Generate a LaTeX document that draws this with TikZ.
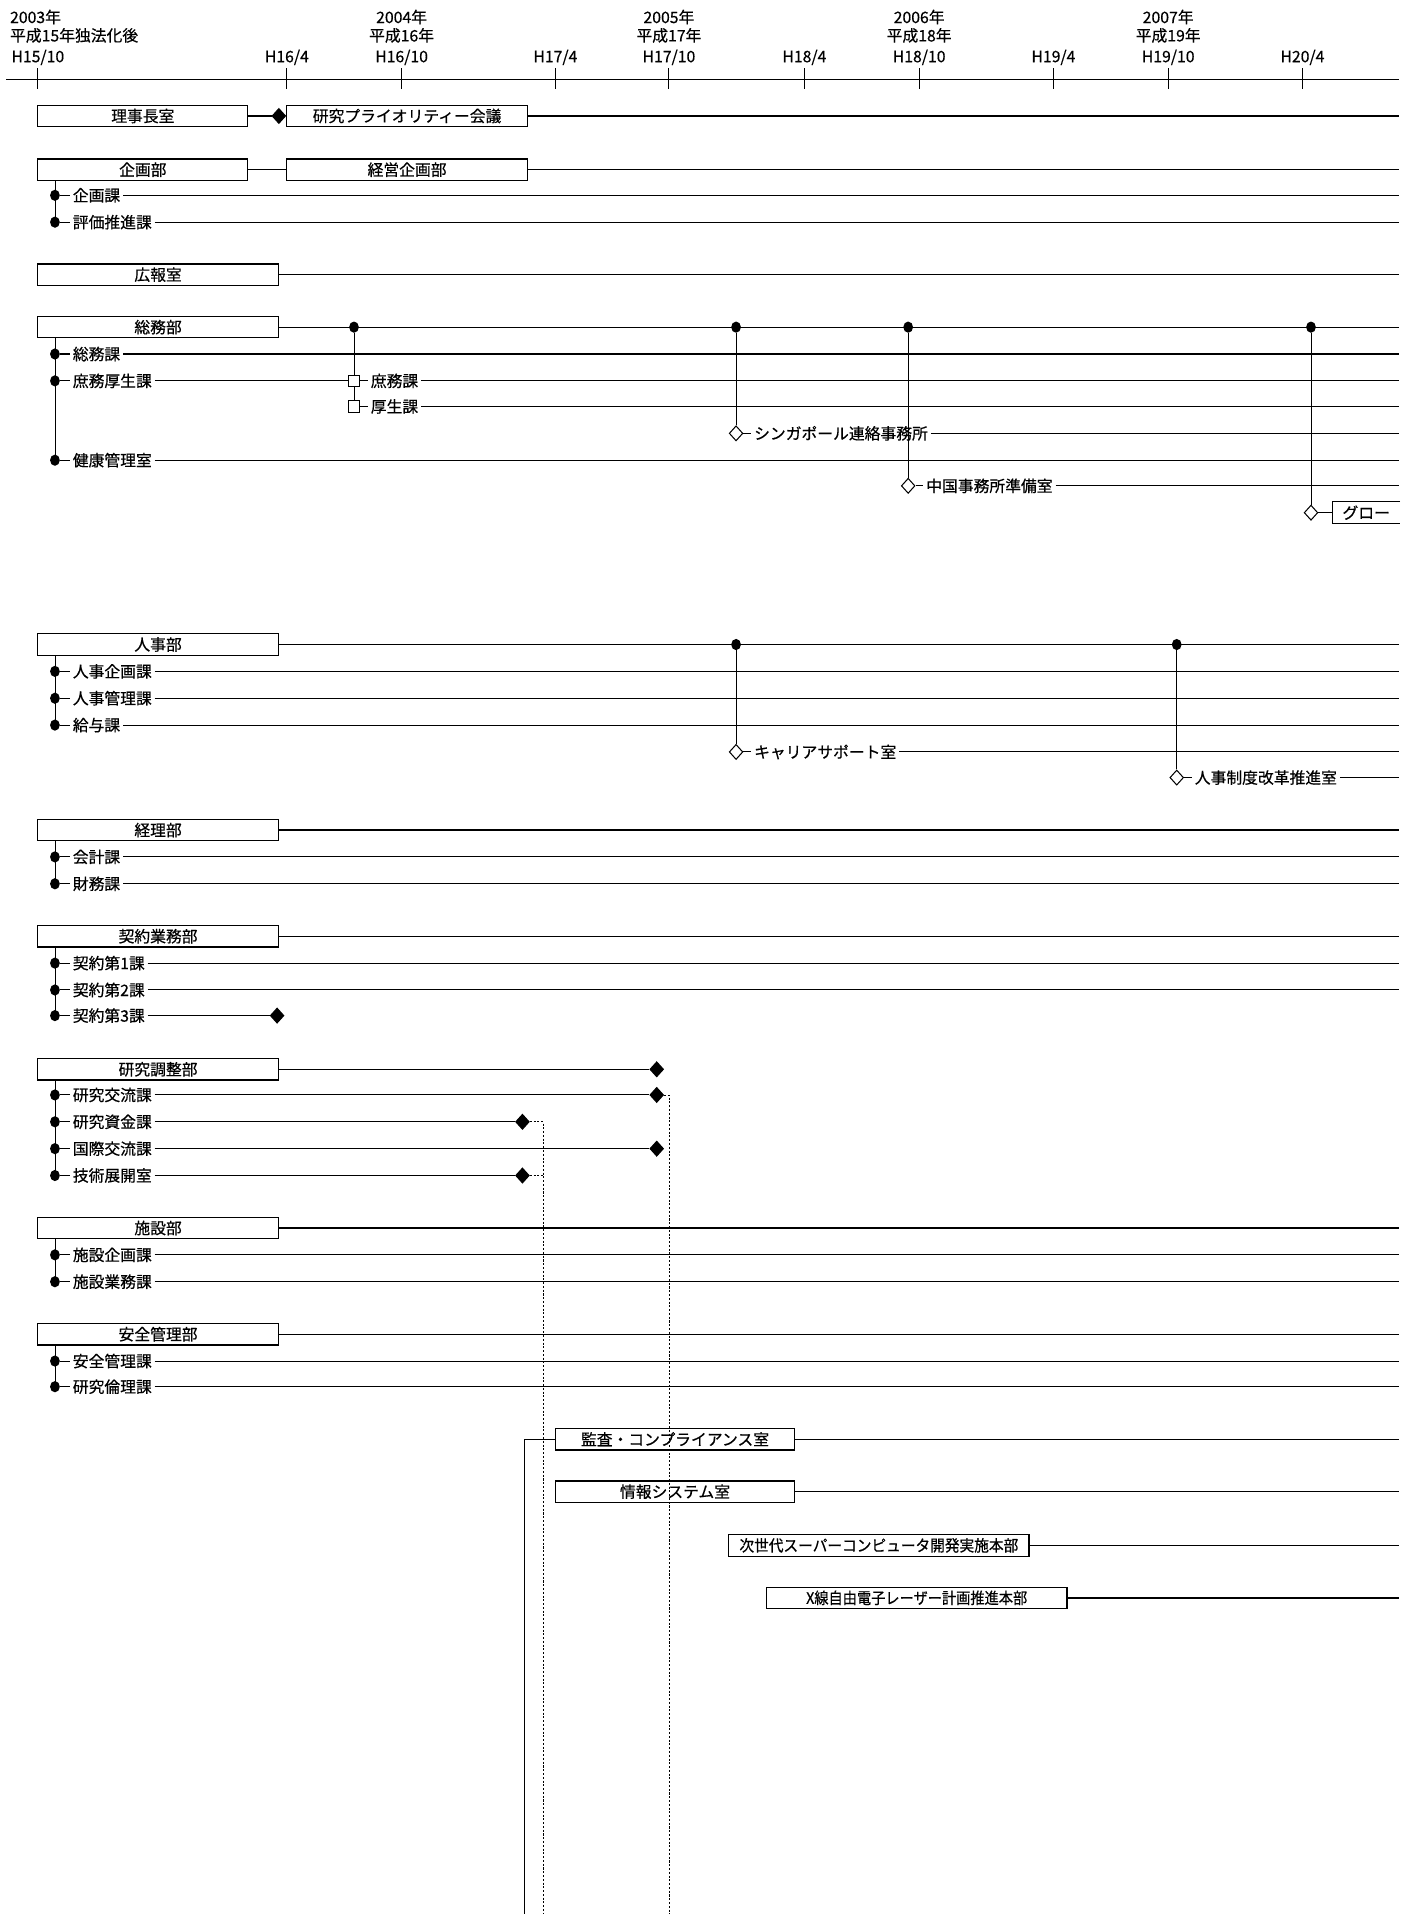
\documentclass[tikz,border=0pt]{standalone}
\usepackage{fontspec}
\usepackage{graphicx}
\setmainfont{Noto Sans CJK JP}[FakeBold=0.5]
\usetikzlibrary{positioning,shapes.geometric,backgrounds}
\newcommand{\orgfont}{\fontsize{9.2pt}{10.7pt}\selectfont}
\tikzset{jdot/.style={ellipse, fill=black, minimum width=0.2cm, minimum height=0.23cm, inner sep=0pt}}
\tikzset{osq/.style={rectangle, draw=black, fill=white, line width=0.6pt, minimum size=0.23cm, inner sep=0pt}}
\tikzset{odia/.style={diamond, draw=black, fill=white, line width=0.6pt, minimum width=0.28cm, minimum height=0.31cm, inner sep=0pt}}
\tikzset{fdia/.style={odia, fill=black}}

\begin{document}
\begin{tikzpicture}[
  x=0.025cm, y=-0.025cm,
  bubox/.style={rectangle, draw=black, fill=white, line width=0.7pt,
                minimum height=0.44cm, inner sep=0pt, font=\orgfont},
  kalbl/.style={font=\orgfont, inner sep=1.5pt},
  tklbl/.style={font=\orgfont, inner sep=0pt},
  yrlbl/.style={font=\orgfont, inner sep=0pt, align=center},
  mainln/.style={line width=0.75pt},
  subln/.style={line width=0.6pt},
  vln/.style={line width=0.5pt},
  dotln/.style={line width=0.5pt, dash pattern=on 1.2pt off 1pt},
  axtick/.style={line width=0.6pt},
]
 \useasboundingbox (0,0) rectangle (1153,1568);
 \coordinate (R) at (1146,0);

 % Time axis
 \draw[subln] (5,65) -- (1146,65);
 \node[yrlbl, align=left, anchor=west] (Y2003) at (8,21.5) {2003年\\平成15年独法化後};
 \node[yrlbl] (Y2004) at (329,21.5) {2004年\\平成16年};
 \node[yrlbl] (Y2005) at (548,21.5) {2005年\\平成17年};
 \node[yrlbl] (Y2006) at (753,21.5) {2006年\\平成18年};
 \node[yrlbl] (Y2007) at (957,21.5) {2007年\\平成19年};
 \node[tklbl] (H1510) at (31,47) {H15/10};
 \node[tklbl] (H1604) at (235,47) {H16/4};
 \node[tklbl] (H1610) at (329,47) {H16/10};
 \node[tklbl] (H1704) at (455,47) {H17/4};
 \node[tklbl] (H1710) at (548,47) {H17/10};
 \node[tklbl] (H1804) at (659,47) {H18/4};
 \node[tklbl] (H1810) at (753,47) {H18/10};
 \node[tklbl] (H1904) at (863,47) {H19/4};
 \node[tklbl] (H1910) at (957,47) {H19/10};
 \node[tklbl] (H2004) at (1067,47) {H20/4};
 \draw[axtick] (31,56) -- (31,73);
 \draw[axtick] (235,56) -- (235,73);
 \draw[axtick] (329,56) -- (329,73);
 \draw[axtick] (455,56) -- (455,73);
 \draw[axtick] (548,56) -- (548,73);
 \draw[axtick] (659,56) -- (659,73);
 \draw[axtick] (753,56) -- (753,73);
 \draw[axtick] (863,56) -- (863,73);
 \draw[axtick] (957,56) -- (957,73);
 \draw[axtick] (1067,56) -- (1067,73);

 % Riji row
 \node[bubox, minimum width=4.3cm] (Riji) at (117,95) {理事長室};
 \node[bubox, minimum width=4.925cm] (Prio) at (333.5,95) {研究プライオリティー会議};
 \node[fdia, left=0pt of Prio] (RijiEnd) {};
 \begin{scope}[on background layer]
  \draw[mainln] (Riji) -- (RijiEnd);
  \draw[mainln] (Prio.east) -- (Prio.east -| R);
 \end{scope}

 % Kikaku rows
 \node[bubox, minimum width=4.3cm] (Kikaku) at (117,139) {企画部};
 \node[bubox, minimum width=4.925cm] (Keiei) at (333.5,139) {経営企画部};
 \node[jdot] (KikakuD1) at (45,160) {};
 \node[kalbl, right=0.2cm of KikakuD1] (KikakuKa) {企画課};
 \node[jdot] (KikakuD2) at (45,182) {};
 \node[kalbl, right=0.2cm of KikakuD2] (HyokaKa) {評価推進課};
 \begin{scope}[on background layer]
  \draw[mainln] (Kikaku) -- (Keiei);
  \draw[mainln] (Keiei.east) -- (Keiei.east -| R);
  \draw[vln] (Kikaku.south -| KikakuD1) -- (KikakuD2.center);
  \draw[subln] (KikakuD1) -- (KikakuKa) -- (KikakuKa.east -| R);
  \draw[subln] (KikakuD2) -- (HyokaKa) -- (HyokaKa.east -| R);
 \end{scope}

 % Koho row
 \node[bubox, minimum width=4.925cm] (Koho) at (129.5,225) {広報室};
 \begin{scope}[on background layer]
  \draw[mainln] (Koho.east) -- (Koho.east -| R);
 \end{scope}

 % Somu rows
 \node[bubox, minimum width=4.925cm] (Somu) at (129.5,268) {総務部};
 \node[jdot] (SomuJ1) at (290,268) {};
 \node[jdot] (SomuJ2) at (603,268) {};
 \node[jdot] (SomuJ3) at (744,268) {};
 \node[jdot] (SomuJ4) at (1074,268) {};
 \node[jdot] (SomuD1) at (45,290) {};
 \node[kalbl, right=0.2cm of SomuD1] (SomuKa) {総務課};
 \node[jdot] (SomuD2) at (45,312) {};
 \node[kalbl, right=0.2cm of SomuD2] (ShomuKosei) {庶務厚生課};
 \node[osq] (SomuS1) at (290,312) {};
 \node[kalbl, right=0.16cm of SomuS1] (ShomuKa) {庶務課};
 \node[osq] (SomuS2) at (290,333) {};
 \node[kalbl, right=0.16cm of SomuS2] (KoseiKa) {厚生課};
 \node[odia] (SomuO1) at (603,355) {};
 \node[kalbl, right=0.16cm of SomuO1] (Singapore) {シンガポール連絡事務所};
 \node[jdot] (SomuD3) at (45,377) {};
 \node[kalbl, right=0.2cm of SomuD3] (Kenko) {健康管理室};
 \node[odia] (SomuO2) at (744,398) {};
 \node[kalbl, right=0.16cm of SomuO2] (China) {中国事務所準備室};
 \node[odia] (SomuO3) at (1074,420) {};
 \node[font=\orgfont, inner sep=0pt, minimum height=0.44cm, minimum width=1.375cm,
       right=0.285cm of SomuO3] (Global) {グロー};
 \draw[line width=0.7pt] (Global.north east) -- (Global.north west)
   -- (Global.south west) -- (Global.south east);
 \begin{scope}[on background layer]
  \draw[mainln] (Somu.east) -- (Somu.east -| R);
  \draw[vln] (Somu.south -| SomuD1) -- (SomuD3.center);
  \draw[subln] (SomuD1) -- (SomuKa) -- (SomuKa.east -| R);
  \draw[subln] (SomuD2) -- (ShomuKosei) -- (SomuS1);
  \draw[subln] (SomuS1) -- (ShomuKa) -- (ShomuKa.east -| R);
  \draw[subln] (SomuS2) -- (KoseiKa) -- (KoseiKa.east -| R);
  \draw[vln] (SomuJ1) -- (SomuS2);
  \draw[vln] (SomuJ2) -- (SomuO1);
  \draw[subln] (SomuO1) -- (Singapore) -- (Singapore.east -| R);
  \draw[subln] (SomuD3) -- (Kenko) -- (Kenko.east -| R);
  \draw[vln] (SomuJ3) -- (SomuO2);
  \draw[subln] (SomuO2) -- (China) -- (China.east -| R);
  \draw[vln] (SomuJ4) -- (SomuO3);
  \draw[subln] (SomuO3) -- (Global);
 \end{scope}

 % Jinji rows
 \node[bubox, minimum width=4.925cm] (Jinji) at (129.5,528) {人事部};
 \node[jdot] (JinjiJ1) at (603,528) {};
 \node[jdot] (JinjiJ2) at (964,528) {};
 \node[jdot] (JinjiD1) at (45,550) {};
 \node[kalbl, right=0.2cm of JinjiD1] (JinjiKikaku) {人事企画課};
 \node[jdot] (JinjiD2) at (45,572) {};
 \node[kalbl, right=0.2cm of JinjiD2] (JinjiKanri) {人事管理課};
 \node[jdot] (JinjiD3) at (45,594) {};
 \node[kalbl, right=0.2cm of JinjiD3] (KyuyoKa) {給与課};
 \node[odia] (JinjiO1) at (603,616) {};
 \node[kalbl, right=0.16cm of JinjiO1] (Career) {キャリアサポート室};
 \node[odia] (JinjiO2) at (964,637) {};
 \node[kalbl, right=0.16cm of JinjiO2] (Seido) {人事制度改革推進室};
 \begin{scope}[on background layer]
  \draw[mainln] (Jinji.east) -- (Jinji.east -| R);
  \draw[vln] (Jinji.south -| JinjiD1) -- (JinjiD3.center);
  \draw[subln] (JinjiD1) -- (JinjiKikaku) -- (JinjiKikaku.east -| R);
  \draw[subln] (JinjiD2) -- (JinjiKanri) -- (JinjiKanri.east -| R);
  \draw[subln] (JinjiD3) -- (KyuyoKa) -- (KyuyoKa.east -| R);
  \draw[vln] (JinjiJ1) -- (JinjiO1);
  \draw[subln] (JinjiO1) -- (Career) -- (Career.east -| R);
  \draw[vln] (JinjiJ2) -- (JinjiO2);
  \draw[subln] (JinjiO2) -- (Seido) -- (Seido.east -| R);
 \end{scope}

 % Keiri rows
 \node[bubox, minimum width=4.925cm] (Keiri) at (129.5,680) {経理部};
 \node[jdot] (KeiriD1) at (45,702) {};
 \node[kalbl, right=0.2cm of KeiriD1] (KaikeiKa) {会計課};
 \node[jdot] (KeiriD2) at (45,724) {};
 \node[kalbl, right=0.2cm of KeiriD2] (ZaimuKa) {財務課};
 \begin{scope}[on background layer]
  \draw[mainln] (Keiri.east) -- (Keiri.east -| R);
  \draw[vln] (Keiri.south -| KeiriD1) -- (KeiriD2.center);
  \draw[subln] (KeiriD1) -- (KaikeiKa) -- (KaikeiKa.east -| R);
  \draw[subln] (KeiriD2) -- (ZaimuKa) -- (ZaimuKa.east -| R);
 \end{scope}

 % Keiyaku rows
 \node[bubox, minimum width=4.925cm] (Keiyaku) at (129.5,767) {契約業務部};
 \node[jdot] (KeiyakuD1) at (45,789) {};
 \node[kalbl, right=0.2cm of KeiyakuD1] (Keiyaku1) {契約第1課};
 \node[jdot] (KeiyakuD2) at (45,811) {};
 \node[kalbl, right=0.2cm of KeiyakuD2] (Keiyaku2) {契約第2課};
 \node[jdot] (KeiyakuD3) at (45,832) {};
 \node[kalbl, right=0.2cm of KeiyakuD3] (Keiyaku3) {契約第3課};
 \node[fdia] (Keiyaku3End) at (227,832) {};
 \begin{scope}[on background layer]
  \draw[mainln] (Keiyaku.east) -- (Keiyaku.east -| R);
  \draw[vln] (Keiyaku.south -| KeiyakuD1) -- (KeiyakuD3.center);
  \draw[subln] (KeiyakuD1) -- (Keiyaku1) -- (Keiyaku1.east -| R);
  \draw[subln] (KeiyakuD2) -- (Keiyaku2) -- (Keiyaku2.east -| R);
  \draw[subln] (KeiyakuD3) -- (Keiyaku3) -- (Keiyaku3End);
 \end{scope}

 % Kenkyu chosei rows
 \node[bubox, minimum width=4.925cm] (Chosei) at (129.5,876) {研究調整部};
 \node[fdia] (ChoseiEnd) at (538,876) {};
 \node[jdot] (ChoseiD1) at (45,897) {};
 \node[kalbl, right=0.2cm of ChoseiD1] (KoryuKa) {研究交流課};
 \node[fdia] (KoryuEnd) at (538,897) {};
 \node[jdot] (ChoseiD2) at (45,919) {};
 \node[kalbl, right=0.2cm of ChoseiD2] (ShikinKa) {研究資金課};
 \node[fdia] (ShikinEnd) at (428,919) {};
 \node[jdot] (ChoseiD3) at (45,941) {};
 \node[kalbl, right=0.2cm of ChoseiD3] (KokusaiKa) {国際交流課};
 \node[fdia] (KokusaiEnd) at (538,941) {};
 \node[jdot] (ChoseiD4) at (45,963) {};
 \node[kalbl, right=0.2cm of ChoseiD4] (GijutsuShitsu) {技術展開室};
 \node[fdia] (GijutsuEnd) at (428,963) {};
 \coordinate (DotA) at (548,1568);
 \coordinate (DotB) at (445,1568);
 \begin{scope}[on background layer]
  \draw[mainln] (Chosei) -- (ChoseiEnd);
  \draw[vln] (Chosei.south -| ChoseiD1) -- (ChoseiD4.center);
  \draw[subln] (ChoseiD1) -- (KoryuKa) -- (KoryuEnd);
  \draw[subln] (ChoseiD2) -- (ShikinKa) -- (ShikinEnd);
  \draw[subln] (ChoseiD3) -- (KokusaiKa) -- (KokusaiEnd);
  \draw[subln] (ChoseiD4) -- (GijutsuShitsu) -- (GijutsuEnd);
 \end{scope}

 % Shisetsu rows
 \node[bubox, minimum width=4.925cm] (Shisetsu) at (129.5,1006) {施設部};
 \node[jdot] (ShisetsuD1) at (45,1028) {};
 \node[kalbl, right=0.2cm of ShisetsuD1] (ShisetsuKikaku) {施設企画課};
 \node[jdot] (ShisetsuD2) at (45,1050) {};
 \node[kalbl, right=0.2cm of ShisetsuD2] (ShisetsuGyomu) {施設業務課};
 \begin{scope}[on background layer]
  \draw[mainln] (Shisetsu.east) -- (Shisetsu.east -| R);
  \draw[vln] (Shisetsu.south -| ShisetsuD1) -- (ShisetsuD2.center);
  \draw[subln] (ShisetsuD1) -- (ShisetsuKikaku) -- (ShisetsuKikaku.east -| R);
  \draw[subln] (ShisetsuD2) -- (ShisetsuGyomu) -- (ShisetsuGyomu.east -| R);
 \end{scope}

 % Anzen rows
 \node[bubox, minimum width=4.925cm] (Anzen) at (129.5,1093) {安全管理部};
 \node[jdot] (AnzenD1) at (45,1115) {};
 \node[kalbl, right=0.2cm of AnzenD1] (AnzenKa) {安全管理課};
 \node[jdot] (AnzenD2) at (45,1136) {};
 \node[kalbl, right=0.2cm of AnzenD2] (RinriKa) {研究倫理課};
 \begin{scope}[on background layer]
  \draw[mainln] (Anzen.east) -- (Anzen.east -| R);
  \draw[vln] (Anzen.south -| AnzenD1) -- (AnzenD2.center);
  \draw[subln] (AnzenD1) -- (AnzenKa) -- (AnzenKa.east -| R);
  \draw[subln] (AnzenD2) -- (RinriKa) -- (RinriKa.east -| R);
 \end{scope}

 % New units
 \node[bubox, minimum width=4.9cm] (Kansa) at (553,1179) {監査・コンプライアンス室};
 \node[bubox, minimum width=4.9cm] (Joho) at (553,1222) {情報システム室};
 \node[bubox, minimum width=6.15cm] (Jisedai) at (720,1266)
   {\scalebox{0.93}[1]{次世代スーパーコンピュータ開発実施本部}};
 \node[bubox, minimum width=6.15cm] (XFEL) at (751,1309)
   {\scalebox{0.9}[1]{X線自由電子レーザー計画推進本部}};
 \coordinate (KansaB) at (430,1568);
 \begin{scope}[on background layer]
  \draw[mainln] (Kansa.east) -- (Kansa.east -| R);
  \draw[mainln] (Joho.east) -- (Joho.east -| R);
  \draw[mainln] (Jisedai.east) -- (Jisedai.east -| R);
  \draw[mainln] (XFEL.east) -- (XFEL.east -| R);
  \draw[line width=0.7pt] (Kansa.west) -| (KansaB);
 \end{scope}

 % Transfer lines
 \draw[dotln] (KoryuEnd.east) -| (DotA);
 \draw[dotln] (ShikinEnd.east) -| (DotB);
 \draw[dotln] (GijutsuEnd.east) -- (GijutsuEnd.east -| DotB);
\end{tikzpicture}
\end{document}
